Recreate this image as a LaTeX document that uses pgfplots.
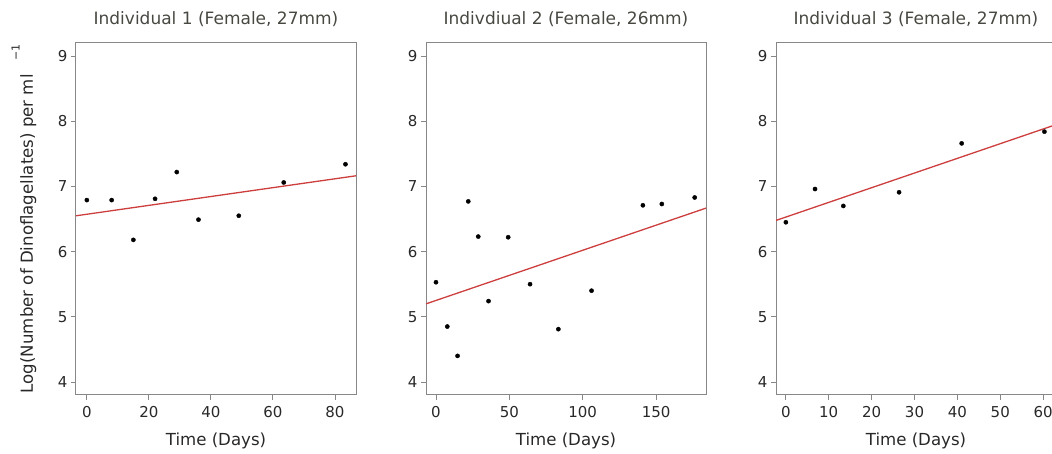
\documentclass[border=0pt]{standalone}
\usepackage{pgfplots}
\pgfplotsset{compat=1.18}
\usepackage{fontspec}
\setmainfont{DejaVu Sans}

\definecolor{fitred}{RGB}{205,62,62}
\definecolor{framegray}{RGB}{135,135,135}
\definecolor{titlegray}{RGB}{72,72,66}
\definecolor{labelgray}{RGB}{40,40,40}

% Dinoflagellate counts over time, one table per individual
\pgfplotstableread{
x    y
0    6.79
8    6.79
15   6.18
22   6.81
29   7.22
36   6.49
49   6.55
63.5 7.06
83.4 7.34
}\indA
\pgfplotstableread{
x     y
0     5.53
7.7   4.85
14.7  4.40
22    6.77
28.8  6.23
35.8  5.24
49.2  6.22
64.1  5.50
83.4  4.81
106   5.40
141   6.71
153.9 6.73
176.3 6.83
}\indB
\pgfplotstableread{
x    y
0    6.45
6.8  6.96
13.4 6.70
26.4 6.91
41   7.66
60.3 7.84
}\indC

\pgfplotsset{
  panel/.style={
    scale only axis, width=280pt, height=352pt,
    anchor=south west,
    ymin=3.8, ymax=9.2, ytick={4,5,...,9},
    axis line style={framegray, line width=1pt},
    tick style={framegray, line width=0.8pt},
    tick align=outside, major tick length=5pt,
    tick pos=left,
    /pgf/number format/assume math mode=true,
    ticklabel style={font=\fontsize{15}{15}\selectfont, text=labelgray},
    xticklabel style={yshift=-3pt},
    title style={at={(axis description cs:0.5,1)}, anchor=base, yshift=12pt,
      font=\fontsize{17}{17}\selectfont, text=titlegray},
    xlabel style={at={(axis description cs:0.5,0)}, anchor=base, yshift=-51pt,
      font=\fontsize{16.6}{16.6}\selectfont, text=labelgray},
    ylabel style={font=\fontsize{16.6}{16.6}\selectfont, text=labelgray},
    xlabel={Time (Days)},
  },
  fit/.style={fitred, line width=1.3pt, no marks},
  pts/.style={only marks, mark=*, mark size=2.1pt, black},
}

\begin{document}
\begin{tikzpicture}
\begin{axis}[panel, at={(76pt,59pt)},
  xmin=-3.5, xmax=86.8, xtick={0,20,...,80},
  title={Individual 1 (Female, 27mm)},
  ylabel={Log(Number of Dinoflagellates) per ml\hspace{0.8em}\raisebox{0.8em}{\fontsize{11}{11}\selectfont −1}},
  ylabel style={at={(axis description cs:-0.1536,0.5)}, anchor=base},
]
\addplot[fit] coordinates {(-3.5,6.549) (86.8,7.163)};
\addplot[pts] table {\indA};
\end{axis}

\begin{axis}[panel, at={(426pt,59pt)},
  xmin=-6.8, xmax=184, xtick={0,50,100,150},
  title={Indivdiual 2 (Female, 26mm)},
]
\addplot[fit] coordinates {(-6.8,5.198) (184,6.667)};
\addplot[pts] table {\indB};
\end{axis}

\begin{axis}[panel, at={(776pt,59pt)},
  xmin=-2.3, xmax=63, xtick={0,10,...,60},
  title={Individual 3 (Female, 27mm)},
]
\addplot[fit] coordinates {(-2.3,6.478) (63,7.948)};
\addplot[pts] table {\indC};
\end{axis}

\pgfresetboundingbox
\useasboundingbox (0,0) rectangle (1052pt,454pt);
\end{tikzpicture}
\end{document}
